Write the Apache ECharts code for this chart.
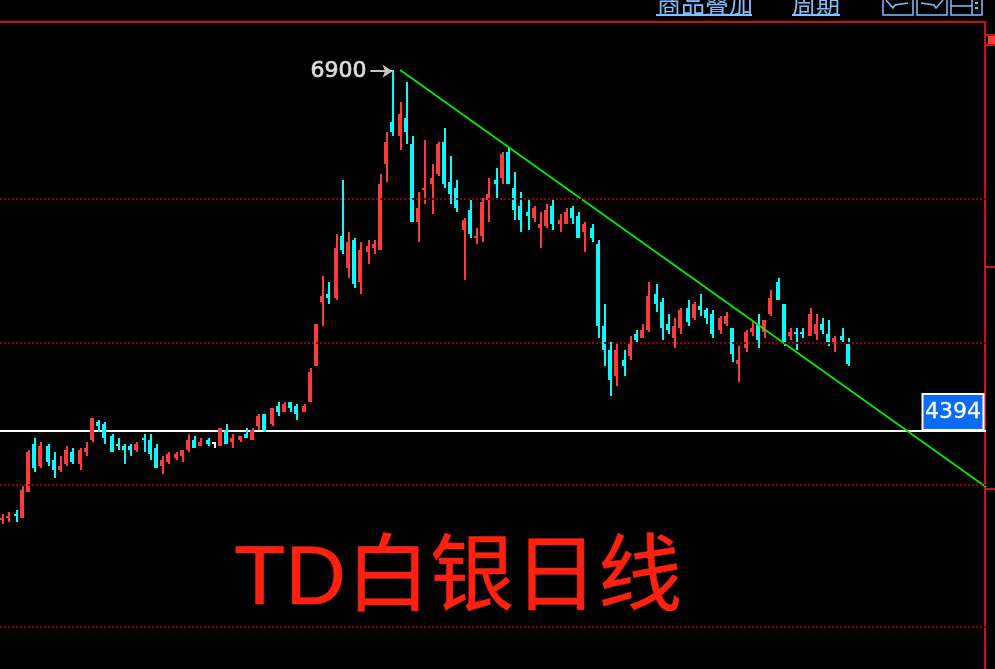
<!DOCTYPE html>
<html>
<head>
<meta charset="utf-8">
<style>html,body{margin:0;padding:0;background:#000;}#c{width:995px;height:669px;}</style>
<script src="https://cdn.jsdelivr.net/npm/echarts@6/dist/echarts.min.js"></script>
</head>
<body>
<div id="c"></div>
<script>
const opens = [3777,3791,3819,3791,3971,4304,4152,4290,4193,4124,
4166,4249,4166,4249,4332,4457,4443,4360,4304,4290,
4290,4263,4346,4332,4277,4152,4179,4207,4221,4263,
4332,4290,4332,4318,4290,4402,4318,4332,4374,4332,
4429,4513,4443,4568,4527,4596,4568,4527,4596,4846,
5290,5346,5318,5748,5526,5720,5429,5637,5664,5650,
6248,6539,6442,6567,6387,5845,6067,6109,6178,6400,
6122,6081,5789,5928,5734,5748,5998,6136,6150,6331,
6081,5956,5915,5873,5803,5817,5956,5831,5831,5942,
5887,5776,5803,5692,5123,4957,4776,4887,4915,5068,
5040,5096,5346,5290,5137,5040,5110,5248,5179,5262,
5234,5207,5096,5137,5110,4860,4971,5082,5137,5082,
5207,5429,5276,5054,5082,5082,5054,5068,5137,5068,4998,5054,4998];
const closes = [3791,3805,3805,3985,4249,4138,4290,4179,4124,4152,
4263,4179,4263,4277,4485,4429,4346,4249,4290,4263,
4263,4304,4332,4235,4138,4193,4235,4235,4263,4332,
4277,4318,4304,4318,4415,4304,4346,4360,4346,4402,
4499,4402,4554,4527,4582,4554,4513,4568,4804,5137,
5332,5318,5664,5650,5706,5415,5650,5678,5692,6109,
6400,6470,6595,6470,5845,5942,6081,6150,6387,6109,
6039,5942,5859,5762,5748,5984,6039,6109,6317,6109,
5928,5859,5887,5942,5831,5928,5831,5859,5915,5873,
5734,5831,5734,5123,4957,4749,4957,4846,5012,5026,
5096,5332,5276,5110,5096,5123,5234,5151,5276,5234,
5179,5068,5179,5193,4929,4887,5082,5110,5026,5165,
5318,5304,5012,5082,5068,5068,5207,5137,5096,5012,5040,5026,4860];
const lows = [3749,3763,3763,3791,3971,4110,4138,4152,4068,4110,
4152,4166,4124,4221,4318,4388,4304,4249,4263,4166,
4221,4249,4249,4193,4138,4096,4166,4193,4179,4249,
4277,4290,4290,4277,4290,4304,4277,4318,4346,4332,
4402,4388,4429,4499,4527,4527,4471,4527,4596,4846,
5123,5276,5304,5623,5457,5387,5346,5554,5623,5650,
6122,6442,6345,6387,5845,5706,5970,5901,6164,6081,
5970,5915,5443,5734,5692,5706,5845,5998,6109,6109,
5859,5776,5789,5845,5664,5803,5789,5776,5831,5831,
5734,5637,5706,5040,4846,4638,4707,4776,4887,4998,
5040,5082,5220,5026,5068,4971,5068,5123,5165,5193,
5137,5040,5068,5123,4873,4735,4943,5054,4971,5040,
5193,5304,4985,5026,4957,5040,5054,5026,5068,4985,4943,5012,4846];
const highs = [3819,3833,3847,4013,4263,4346,4318,4304,4249,4221,
4290,4277,4277,4318,4485,4471,4457,4374,4346,4304,
4304,4318,4374,4374,4304,4221,4249,4249,4263,4374,
4360,4346,4346,4318,4415,4443,4374,4360,4415,4415,
4513,4513,4554,4596,4596,4596,4582,4582,4832,5137,
5470,5429,5762,6136,5776,5734,5706,5720,5720,6178,
6470,6900,6678,6817,6442,6053,6414,6248,6400,6498,
6303,6136,5873,5998,5803,6012,6150,6220,6331,6359,
6192,6053,5998,5956,5915,5970,5998,5901,5942,5956,
5915,5845,5831,5720,5276,5012,4998,4957,5054,5096,
5137,5429,5415,5318,5207,5179,5248,5304,5290,5346,
5248,5234,5193,5220,5110,4985,5096,5151,5207,5165,
5373,5457,5276,5110,5110,5110,5248,5207,5179,5165,5054,5110,5040];
const slotCount = 154;
const gridValues = [6005, 5006, 4020, 3035];
const axisTickValues = [5533, 3992];
const trendLine = [[62, 6900], [153.5, 4006]];
const lastPrice = 4394;
const peakPrice = 6900;
const arrowSpan = [57.35, 60.8];
const titleText = 'TD白银日线';
const toolbarWords = ['商品叠加', '周期'];

const categories = Array.from({length: slotCount}, (_, i) => String(i + 1));
const candleRows = opens.map((o, i) => [i, o, closes[i], lows[i], highs[i]]);
const UP = '#ff3a3a', DOWN = '#00ffff', FLAT = '#ffffff', BLUE = '#80c0ff', FRAME = '#c81414';
const FONT = '"DejaVu Sans"';

function renderCandle(params, api) {
  const x = api.coord([api.value(0), 0])[0];
  const left = 2 * Math.floor((x - 1.9) / 2);
  const o = api.value(1), c = api.value(2);
  const color = c > o ? UP : (c < o ? DOWN : FLAT);
  const bt = Math.round(api.coord([0, Math.max(o, c)])[1]);
  const bb = Math.round(api.coord([0, Math.min(o, c)])[1]);
  const wb = Math.round(api.coord([0, api.value(3)])[1]);
  const wt = Math.round(api.coord([0, api.value(4)])[1]);
  const h = Math.max(bb - bt, 2);
  return {
    type: 'group',
    children: [
      {type: 'rect', shape: {x: left + 2, y: wt, width: 2, height: Math.max(wb - wt, 2)}, style: {fill: color}},
      {type: 'rect', shape: {x: left, y: bt, width: 4, height: h}, style: {fill: color}}
    ]
  };
}

const chart = echarts.init(document.getElementById('c'), null, {renderer: 'canvas'});
chart.setOption({
  animation: false,
  backgroundColor: '#000',
  title: {
    text: titleText, left: 229, top: 534,
    textStyle: {color: '#ff2010', fontSize: 84, fontWeight: 'normal', fontFamily: '"Liberation Sans","Noto Sans CJK SC"',
      textBorderColor: '#ff2010', textBorderWidth: 0.6}
  },
  grid: {left: 0, right: 9, top: 22, bottom: 0},
  xAxis: [
    {type: 'category', position: 'top', data: categories, boundaryGap: true,
     axisLine: {show: true, onZero: false, lineStyle: {color: FRAME, width: 2}},
     axisTick: {show: false}, axisLabel: {show: false}, splitLine: {show: false}},
    {type: 'value', min: -0.5, max: 153.5, show: false, splitLine: {show: false}}
  ],
  yAxis: {
    type: 'value', position: 'right', min: 2743, max: 7233, offset: -1,
    axisLine: {show: true, onZero: false, lineStyle: {color: FRAME, width: 2}},
    axisTick: {show: true, inside: false, length: 10, customValues: axisTickValues, lineStyle: {color: FRAME, width: 2}},
    axisLabel: {show: false}, splitLine: {show: false}
  },
  series: [
    {
      name: 'guides', type: 'line', xAxisIndex: 1, data: [], z: 1, silent: true,
      markLine: {
        silent: true, symbol: 'none', animation: false, label: {show: false},
        lineStyle: {color: '#8a0000', type: [2, 2], width: 2},
        data: gridValues.map(v => ({yAxis: v}))
      }
    },
    {
      name: 'last', type: 'line', xAxisIndex: 1, z: 2, silent: true, symbol: 'none',
      lineStyle: {color: '#ffffff', width: 2},
      data: [[-0.5, lastPrice], [153.5, lastPrice]]
    },
    {
      name: 'TD', type: 'custom', renderItem: renderCandle, z: 3,
      encode: {x: 0, y: [1, 2, 3, 4]}, data: candleRows
    },
    {
      name: 'trend', type: 'line', xAxisIndex: 1, z: 4, silent: true, symbol: 'none',
      lineStyle: {color: '#00f000', width: 1.7},
      data: trendLine,
      markPoint: {
        silent: true, animation: false, symbol: 'rect', symbolSize: 0,
        label: {
          show: true, position: 'left', distance: 1, offset: [-32, -19],
          formatter: String(lastPrice), color: '#fff', fontFamily: FONT, fontSize: 22,
          textBorderColor: '#fff', textBorderWidth: 0.3,
          backgroundColor: '#0a6cf5', borderColor: '#fff', borderWidth: 2,
          width: 59, height: 34, lineHeight: 34, align: 'center', verticalAlign: 'middle'
        },
        data: [{coord: [153.5, lastPrice]}]
      }
    },
    {
      name: 'peak', type: 'line', xAxisIndex: 1, data: [], z: 5, silent: true,
      markLine: {
        silent: true, animation: false,
        symbol: ['none', 'arrow'], symbolSize: [10, 10],
        lineStyle: {color: '#c4c4c4', width: 2, type: 'solid'},
        label: {show: true, position: 'start', formatter: String(peakPrice), color: '#dcdcdc',
          fontFamily: FONT, fontSize: 22, distance: 4, textBorderColor: '#dcdcdc', textBorderWidth: 0.7},
        data: [[{coord: [arrowSpan[0], peakPrice - 8]}, {coord: [arrowSpan[1], peakPrice - 8]}]]
      }
    }
  ],
  graphic: [
    {type: 'text', left: 657, top: -8, style: {text: toolbarWords[0], fill: BLUE, font: '24px "Noto Sans CJK SC"'}},
    {type: 'text', left: 792, top: -8, style: {text: toolbarWords[1], fill: BLUE, font: '24px "Noto Sans CJK SC"'}},
    {type: 'line', shape: {x1: 656, y1: 15, x2: 752, y2: 15}, style: {stroke: BLUE, lineWidth: 2}},
    {type: 'line', shape: {x1: 792, y1: 15, x2: 840, y2: 15}, style: {stroke: BLUE, lineWidth: 2}},
    {type: 'rect', shape: {x: 883, y: -6, width: 30, height: 21}, style: {fill: 'none', stroke: BLUE, lineWidth: 1.5}},
    {type: 'rect', shape: {x: 917, y: -6, width: 30, height: 21}, style: {fill: 'none', stroke: BLUE, lineWidth: 1.5}},
    {type: 'rect', shape: {x: 951, y: -6, width: 31, height: 21}, style: {fill: 'none', stroke: BLUE, lineWidth: 1.5}},
    {type: 'polyline', shape: {points: [[886, 0], [893, 8], [895, 5], [908, 3]]}, style: {fill: 'none', stroke: BLUE, lineWidth: 1.5}},
    {type: 'polyline', shape: {points: [[921, 3], [934, 5], [936, 8], [943, 0]]}, style: {fill: 'none', stroke: BLUE, lineWidth: 1.5}},
    {type: 'line', shape: {x1: 951, y1: 6, x2: 972, y2: 6}, style: {stroke: BLUE, lineWidth: 1.5}},
    {type: 'line', shape: {x1: 972, y1: 0, x2: 972, y2: 15}, style: {stroke: BLUE, lineWidth: 1.5}},
    {type: 'rect', shape: {x: 975, y: 2, width: 3, height: 2}, style: {fill: BLUE}},
    {type: 'rect', shape: {x: 975, y: 7, width: 3, height: 2}, style: {fill: BLUE}},
    {type: 'rect', shape: {x: 986, y: 34, width: 9, height: 12}, style: {fill: FRAME}},
    {type: 'rect', shape: {x: 986, y: 36, width: 2, height: 8}, style: {fill: '#000'}},
    {type: 'rect', shape: {x: 988, y: 36, width: 7, height: 8}, style: {fill: '#ff3a3a'}}
  ]
});
</script>
</body>
</html>
